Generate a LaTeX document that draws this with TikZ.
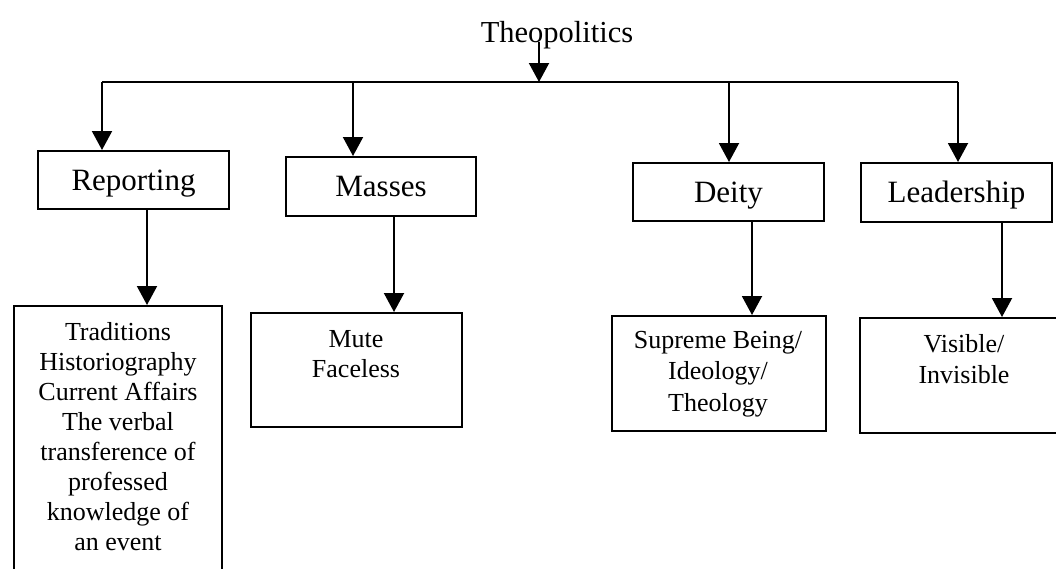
\documentclass[tikz,border=0pt]{standalone}
\usepackage{fontspec}
\setmainfont{Liberation Serif}
\usetikzlibrary{arrows.meta}
\begin{document}
\begin{tikzpicture}[x=1pt,y=-1pt,
  line width=2pt,
  arr/.style={-{Triangle[length=19pt,width=20pt]}},
  box/.style={draw, rectangle, inner sep=0pt},
  lone/.style={font=\fontsize{31}{36}\selectfont, text height=24pt, text depth=4pt},
  ltwo/.style={font=\fontsize{26}{30}\selectfont, align=center, inner sep=0pt},
]
\useasboundingbox (0,0) rectangle (1056,568);
\clip (0,0) rectangle (1056,568);

% root
\node[font=\fontsize{30.5}{35}\selectfont, inner sep=0pt, anchor=base] (theo) at (557,42) {Theopolitics};
\coordinate (top) at (539,82);
\coordinate (barL) at (102,82);
\coordinate (barR) at (958,82);
\coordinate (d1) at (102,82);
\coordinate (d2) at (353,82);
\coordinate (d3) at (729,82);
\coordinate (d4) at (958,82);

% level 1
\node[box, lone, minimum width=191pt, minimum height=58pt] (rep) at (133.5,180) {Reporting};
\node[box, lone, minimum width=190pt, minimum height=59pt] (mas) at (381,186.5) {Masses};
\node[box, lone, minimum width=191pt, minimum height=58pt] (dei) at (728.5,192) {Deity};
\node[box, lone, minimum width=191pt, minimum height=59pt] (lea) at (956.5,192.5) {Leadership};

% level 2 boxes
\node[box, minimum width=208pt, minimum height=280pt, anchor=north] (tra) at (118,305) {};
\node[box, minimum width=211pt, minimum height=114pt] (mut) at (356.5,370) {};
\node[box, minimum width=214pt, minimum height=115pt] (sup) at (719,373.5) {};
\node[box, minimum width=210pt, minimum height=115pt, anchor=north west] (vis) at (859,317) {};

% level 2 texts (base anchor = baseline of the last line)
\node[ltwo, anchor=base] (trat) at (118,550) {Traditions\\Historiography\\Current Affairs\\The verbal\\transference of\\professed\\knowledge of\\an event};
\node[ltwo, anchor=base] (mutt) at (356,377) {Mute\\Faceless};
\node[ltwo, anchor=base, font=\fontsize{26}{31.5}\selectfont] (supt) at (718,411) {Supreme Being/\\Ideology/\\Theology};
\node[ltwo, anchor=base, font=\fontsize{26}{31}\selectfont] (vist) at (964,383) {Visible/\\Invisible};

% connectors
\draw[arr] ([xshift=-18pt]theo.base) -- (top);
\draw (barL) -- (barR);
\draw[arr] (d1) -- (d1 |- rep.north);
\draw[arr] (d2) -- (d2 |- mas.north);
\draw[arr] (d3) -- (d3 |- dei.north);
\draw[arr] (d4) -- (d4 |- lea.north);

\coordinate (e1) at (147,0);
\coordinate (e2) at (394,0);
\coordinate (e3) at (752,0);
\coordinate (e4) at (1002,0);
\draw[arr] (e1 |- rep.south) -- (e1 |- tra.north);
\draw[arr] (e2 |- mas.south) -- (e2 |- mut.north);
\draw[arr] (e3 |- dei.south) -- (e3 |- sup.north);
\draw[arr] (e4 |- lea.south) -- (e4 |- vis.north);
\end{tikzpicture}
\end{document}
